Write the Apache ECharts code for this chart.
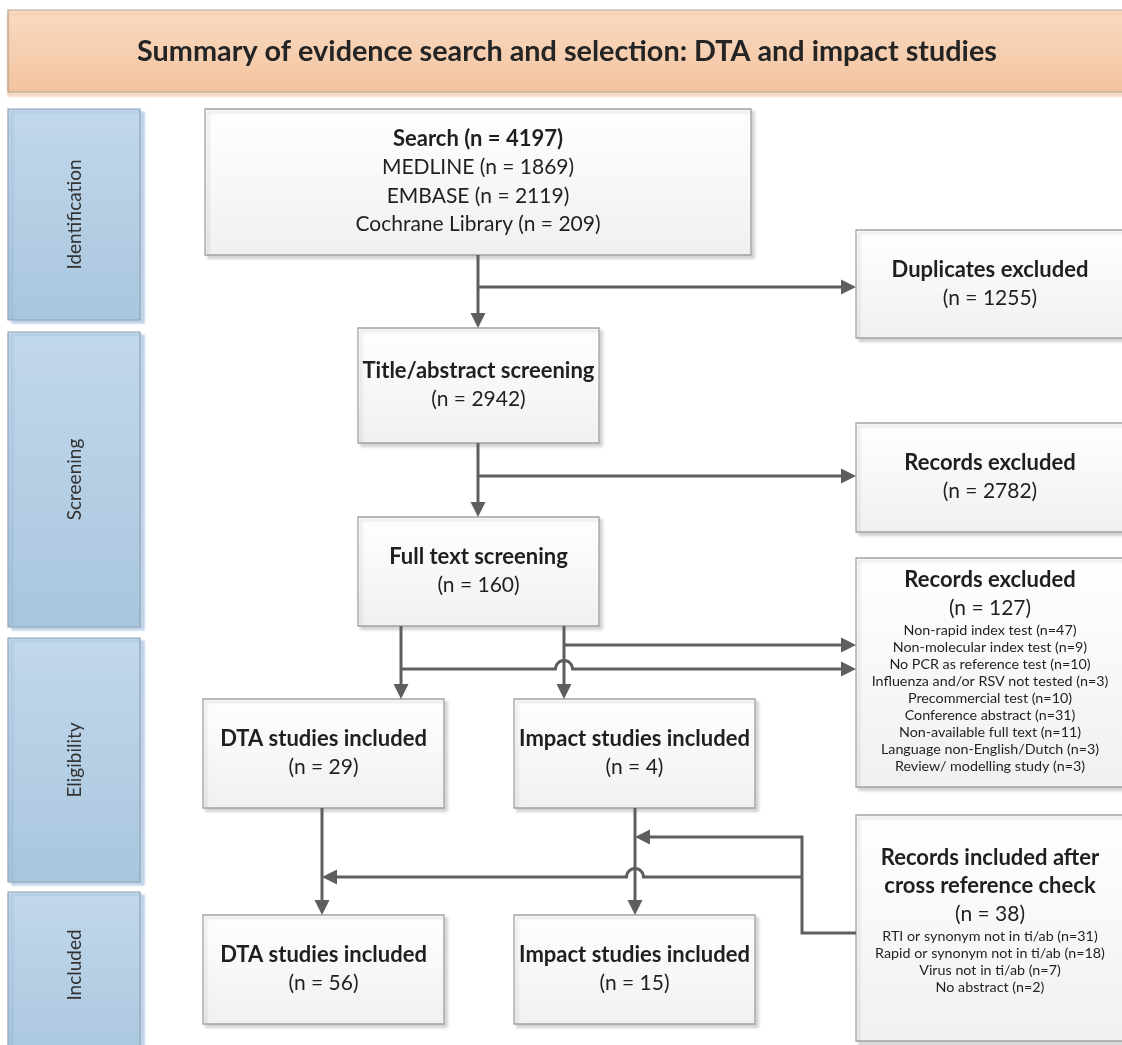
<!DOCTYPE html>
<html>
<head>
<meta charset="utf-8">
<script src="https://cdn.jsdelivr.net/npm/echarts@6/dist/echarts.min.js"></script>
<style>
html,body{margin:0;padding:0;background:#fff;}
#chart{width:1122px;height:1045px;}
</style>
</head>
<body>
<div id="chart"></div>
<script>
// ---------- DATA ----------
const chartTitle = 'Summary of evidence search and selection: DTA and impact studies';
const stageNames = ['Identification', 'Screening', 'Eligibility', 'Included'];

const searchSources = ['MEDLINE', 'EMBASE', 'Cochrane Library'];
const searchCounts = [1869, 2119, 209];

const nodeNames = [
  'Search',
  'Duplicates excluded',
  'Title/abstract screening',
  'Records excluded',
  'Full text screening',
  'Records excluded',
  'DTA studies included',
  'Impact studies included',
  'Records included after\ncross reference check',
  'DTA studies included',
  'Impact studies included'
];
const nodeCounts = [4197, 1255, 2942, 2782, 160, 127, 29, 4, 38, 56, 15];

const fullTextExclusionReasons = [
  'Non-rapid index test',
  'Non-molecular index test',
  'No PCR as reference test',
  'Influenza and/or RSV not tested',
  'Precommercial test',
  'Conference abstract',
  'Non-available full text',
  'Language non-English/Dutch',
  'Review/ modelling study'
];
const fullTextExclusionCounts = [47, 9, 10, 3, 10, 31, 11, 3, 3];

const crossRefReasons = [
  'RTI or synonym not in ti/ab',
  'Rapid or synonym not in ti/ab',
  'Virus not in ti/ab',
  'No abstract'
];
const crossRefCounts = [31, 18, 7, 2];

// ---------- LAYOUT (pixel space of the hidden axes) ----------
const W = 1122, H = 1045;
const titleBar = {x0: 8, y0: 10, x1: 1140, y1: 92};
const stageBoxes = [
  {x0: 8, y0: 109, x1: 140, y1: 320},
  {x0: 8, y0: 332, x1: 140, y1: 627},
  {x0: 8, y0: 638, x1: 140, y1: 882},
  {x0: 8, y0: 892, x1: 140, y1: 1070}
];
const nodeBoxes = [
  {x0: 205, y0: 109, x1: 751, y1: 255},
  {x0: 856, y0: 230, x1: 1124, y1: 338},
  {x0: 358, y0: 328, x1: 599, y1: 443},
  {x0: 856, y0: 423, x1: 1124, y1: 532},
  {x0: 358, y0: 517, x1: 599, y1: 626},
  {x0: 856, y0: 558, x1: 1124, y1: 787},
  {x0: 203, y0: 699, x1: 444, y1: 808},
  {x0: 514, y0: 699, x1: 755, y1: 808},
  {x0: 856, y0: 815, x1: 1124, y1: 1041},
  {x0: 203, y0: 915, x1: 444, y1: 1024},
  {x0: 514, y0: 915, x1: 755, y1: 1024}
];
const nodeTextDy = [0, 0, 0, 0, 0, -2, 0, 0, -8, 0, 0];
// connectors: polyline points; hops are x positions where a horizontal segment jumps a vertical line
const connectors = [
  {pts: [[478, 255], [478, 328]]},
  {pts: [[478, 287], [856, 287]]},
  {pts: [[478, 443], [478, 517]]},
  {pts: [[478, 476], [856, 476]]},
  {pts: [[401, 626], [401, 699]]},
  {pts: [[564, 626], [564, 699]]},
  {pts: [[564, 645], [856, 645]]},
  {pts: [[401, 669], [856, 669]], hops: [564]},
  {pts: [[322, 808], [322, 915]]},
  {pts: [[635, 808], [635, 915]]},
  {pts: [[856, 933], [802, 933], [802, 837], [635, 837]]},
  {pts: [[802, 877], [322, 877]], hops: [635]}
];

// ---------- TEXT BUILDING ----------
const FONT = 'Lato, "Open Sans", sans-serif';
const TXT = '#1f1f1f';
function nodeText(i) {
  const tl = nodeNames[i].split('\n').map(s => '{t|' + s + '}');
  const lines = [];
  if (i === 0) {
    lines.push('{t|' + nodeNames[0] + ' (n = ' + nodeCounts[0] + ')}');
    searchSources.forEach((s, k) => lines.push('{c|' + s + ' (n = ' + searchCounts[k] + ')}'));
  } else {
    tl.forEach(l => lines.push(l));
    lines.push('{c|(n = ' + nodeCounts[i] + ')}');
    if (i === 5) fullTextExclusionReasons.forEach((r, k) => lines.push('{s|' + r + ' (n=' + fullTextExclusionCounts[k] + ')}'));
    if (i === 8) crossRefReasons.forEach((r, k) => lines.push('{s|' + r + ' (n=' + crossRefCounts[k] + ')}'));
  }
  return lines.join('\n');
}
const nodeRich = {
  t: {fontFamily: FONT, fontSize: 22, fontWeight: 'bold', lineHeight: 28, fill: TXT},
  c: {fontFamily: FONT, fontSize: 21, fontWeight: 'normal', lineHeight: 28.5, fill: TXT},
  s: {fontFamily: FONT, fontSize: 14.3, fontWeight: 'normal', lineHeight: 17, fill: TXT}
};
const boxFill = () => new echarts.graphic.LinearGradient(0, 0, 0, 1, [
  {offset: 0, color: '#ffffff'}, {offset: 1, color: '#eff0f1'}
]);

function rectOf(api, b) {
  const p0 = api.coord([b.x0, b.y0]);
  const p1 = api.coord([b.x1, b.y1]);
  return {x: p0[0], y: p0[1], width: p1[0] - p0[0], height: p1[1] - p0[1]};
}

function buildPath(c) {
  const out = [];
  const pts = c.pts;
  const r = 8.5;
  for (let i = 0; i < pts.length; i++) {
    const p = pts[i];
    if (i > 0 && c.hops) {
      const q = pts[i - 1];
      if (q[1] === p[1]) {
        const dir = Math.sign(p[0] - q[0]);
        const hs = c.hops.filter(h => (h - q[0]) * dir > 0 && (p[0] - h) * dir > 0)
                         .sort((a, b) => (a - b) * dir);
        hs.forEach(h => {
          for (let k = 0; k <= 12; k++) {
            const t = Math.PI * k / 12;
            const ang = dir > 0 ? Math.PI - t : t;
            out.push([h + r * Math.cos(ang), p[1] - r * Math.sin(ang)]);
          }
        });
      }
    }
    out.push(p);
  }
  return out;
}

const chart = echarts.init(document.getElementById('chart'), null, {renderer: 'canvas'});
chart.setOption({
  animation: false,
  backgroundColor: '#ffffff',
  grid: {left: 0, right: 0, top: 0, bottom: 0},
  xAxis: {type: 'value', min: 0, max: W, show: false},
  yAxis: {type: 'value', min: 0, max: H, inverse: true, show: false},
  series: [
    { // title bar
      type: 'custom', silent: true, clip: false,
      data: [0],
      renderItem(params, api) {
        const r = rectOf(api, titleBar);
        const c = api.coord([567, 52]);
        return {type: 'group', children: [
          {type: 'rect', shape: r, style: {
            fill: new echarts.graphic.LinearGradient(0, 0, 0, 1, [
              {offset: 0, color: '#f9dbc3'}, {offset: 1, color: '#f3c39e'}]),
            stroke: '#b1a394', lineWidth: 1.2,
            shadowColor: 'rgba(230,150,90,0.35)', shadowBlur: 2, shadowOffsetX: 0, shadowOffsetY: 4}},
          {type: 'text', x: c[0], y: c[1], style: {
            text: chartTitle, fontFamily: FONT, fontSize: 28.8, fontWeight: 'bold',
            fill: '#242424', align: 'center', verticalAlign: 'middle'}}
        ]};
      }
    },
    { // stage boxes
      type: 'custom', silent: true, clip: false,
      data: stageNames.map((s, i) => i),
      renderItem(params, api) {
        const i = params.dataIndex;
        const b = stageBoxes[i];
        const r = rectOf(api, b);
        const c = api.coord([(b.x0 + b.x1) / 2 + 1, (b.y0 + b.y1) / 2 + (i === 3 ? -16 : 0)]);
        return {type: 'group', children: [
          {type: 'rect', shape: r, style: {
            fill: new echarts.graphic.LinearGradient(0, 0, 0, 1, [
              {offset: 0, color: '#c2d8eb'}, {offset: 1, color: '#a9c6de'}]),
            stroke: '#8ea2b6', lineWidth: 1.2,
            shadowColor: 'rgba(120,160,205,0.45)', shadowBlur: 2, shadowOffsetX: 4, shadowOffsetY: 3}},
          {type: 'text', x: c[0], y: c[1], rotation: Math.PI / 2, style: {
            text: stageNames[i], fontFamily: FONT, fontSize: 19,
            fill: '#333333', align: 'center', verticalAlign: 'middle'}}
        ]};
      }
    },
    { // node boxes
      type: 'custom', silent: true, clip: false,
      data: nodeNames.map((s, i) => i),
      renderItem(params, api) {
        const i = params.dataIndex;
        const b = nodeBoxes[i];
        const r = rectOf(api, b);
        const c = api.coord([(b.x0 + b.x1) / 2, (b.y0 + b.y1) / 2 + nodeTextDy[i]]);
        return {type: 'group', children: [
          {type: 'rect', shape: r, style: {
            fill: boxFill(), stroke: '#a2a2a2', lineWidth: 1.3,
            shadowColor: 'rgba(0,0,0,0.16)', shadowBlur: 3, shadowOffsetX: 3, shadowOffsetY: 3}},
          {type: 'text', x: c[0], y: c[1], style: {
            text: nodeText(i), rich: nodeRich, fontFamily: FONT, fontSize: 21,
            fill: TXT, align: 'center', verticalAlign: 'middle'}}
        ]};
      }
    },
    { // connectors
      type: 'custom', silent: true, clip: false,
      data: connectors.map((c, i) => i),
      renderItem(params, api) {
        const c = connectors[params.dataIndex];
        const pts = buildPath(c).map(p => api.coord(p));
        const children = [];
        const end = pts[pts.length - 1];
        const prev = pts[pts.length - 2];
        const dx = end[0] - prev[0], dy = end[1] - prev[1];
        const len = Math.sqrt(dx * dx + dy * dy) || 1;
        const ux = dx / len, uy = dy / len;
        const L = 15, Wd = 7.5;
        const base = [end[0] - ux * L, end[1] - uy * L];
        const linePts = pts.slice(0, -1).concat([[end[0] - ux * (L - 2), end[1] - uy * (L - 2)]]);
        children.push({type: 'polyline', shape: {points: linePts}, style: {
          stroke: '#5e5e5e', lineWidth: 3, fill: null, lineJoin: 'miter'}});
        children.push({type: 'polygon', shape: {points: [
          end,
          [base[0] - uy * Wd, base[1] + ux * Wd],
          [base[0] + uy * Wd, base[1] - ux * Wd]
        ]}, style: {fill: '#5e5e5e'}});
        return {type: 'group', children: children};
      }
    }
  ]
});
</script>
</body>
</html>
